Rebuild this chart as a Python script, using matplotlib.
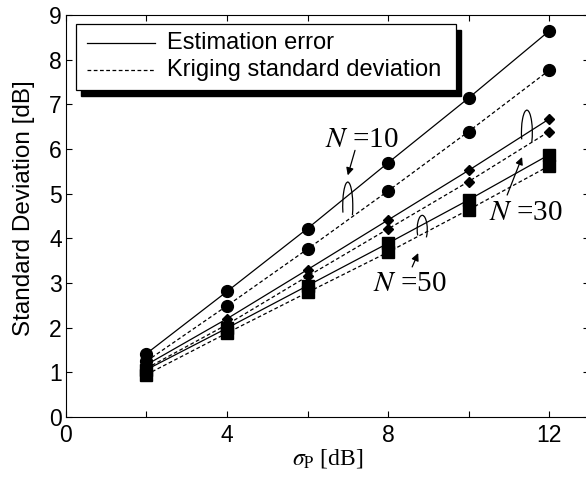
import matplotlib
matplotlib.use("Agg")
import matplotlib.pyplot as plt
from matplotlib.patches import Arc, Rectangle

plt.rcParams["mathtext.fontset"] = "stix"

# sigma_P values [dB]
sigma_p = [2, 4, 6, 8, 10, 12]

# N = 10 (circles)
est_n10 = [1.42, 2.81, 4.22, 5.69, 7.14, 8.64]
krig_n10 = [1.25, 2.49, 3.76, 5.06, 6.39, 7.76]
# N = 30 (diamonds)
est_n30 = [1.17, 2.20, 3.30, 4.41, 5.52, 6.67]
krig_n30 = [1.09, 2.07, 3.15, 4.21, 5.27, 6.39]
# N = 50 (squares)
est_n50 = [1.06, 1.99, 2.94, 3.89, 4.86, 5.87]
krig_n50 = [0.95, 1.88, 2.79, 3.69, 4.64, 5.62]

xtick_vals = [0, 2, 4, 6, 8, 10, 12]
xtick_labels = ["0", "", "4", "", "8", "", "12"]

fig = plt.figure(figsize=(5.86, 4.78), dpi=100)
ax = fig.add_axes([0.1126, 0.1276, 0.893, 0.841])

series = [
    (est_n10, "-", "o", 8.5),
    (krig_n10, "--", "o", 8.5),
    (est_n30, "-", "D", 5.5),
    (krig_n30, "--", "D", 5.5),
    (est_n50, "-", "s", 8),
    (krig_n50, "--", "s", 8),
]
for vals, ls, mk, ms in series:
    ax.plot(sigma_p, vals, ls=ls, color="black", lw=0.9, marker=mk,
            markersize=ms, markerfacecolor="black", markeredgecolor="black",
            dashes=(3, 2) if ls == "--" else (None, None))

ax.set_xlim(0, 13)
ax.set_ylim(0, 9)
ax.set_xticks(xtick_vals)
ax.set_xticklabels(xtick_labels)
ax.set_yticks(range(10))
ax.tick_params(direction="in", top=True, right=True, length=4,
               labelsize=16.5)
ax.tick_params(axis="x", pad=5)
ax.tick_params(axis="y", pad=3)
for lab in ax.get_xticklabels() + ax.get_yticklabels():
    lab.set_family("Liberation Sans")

ax.set_ylabel("Standard Deviation [dB]", family="Liberation Sans",
              fontsize=17.5)
ax.yaxis.set_label_coords(-0.06, 0.52)
ax.set_xlabel(r"$\sigma_{\mathrm{P}}$ [dB]", family="Liberation Serif",
              fontsize=17, labelpad=0)

# legend drawn by hand to get the heavy offset shadow
ax.add_patch(Rectangle((0.028, 0.798), 0.727, 0.165, transform=ax.transAxes,
                       facecolor="black", edgecolor="black", zorder=5))
ax.add_patch(Rectangle((0.019, 0.813), 0.727, 0.165, transform=ax.transAxes,
                       facecolor="white", edgecolor="black", lw=0.9, zorder=6))
ax.plot([0.04, 0.17], [0.93, 0.93], transform=ax.transAxes,
        color="black", lw=0.9, zorder=7)
ax.plot([0.04, 0.17], [0.863, 0.863], transform=ax.transAxes,
        color="black", lw=0.9, dashes=(3, 2), zorder=7)
ax.text(0.193, 0.93, "Estimation error", transform=ax.transAxes,
        family="Liberation Sans", fontsize=17, va="center", zorder=7)
ax.text(0.193, 0.863, "Kriging standard deviation", transform=ax.transAxes,
        family="Liberation Sans", fontsize=17, va="center", zorder=7)

# N labels, arrows and loops
labels = [
    ("$N$ =10", (7.35, 6.2), (7.18, 5.97), (7.0, 5.41), (7.0, 4.72), 0.25, 1.08),
    ("$N$ =30", (11.43, 4.56), (10.96, 4.97), (11.33, 5.82), (11.45, 6.37), 0.27, 1.0),
    ("$N$ =50", (8.55, 2.98), (8.6, 3.36), (8.75, 3.67), (8.85, 4.2), 0.25, 0.63),
]
for txt, tpos, a0, a1, cen, w, h in labels:
    ax.text(tpos[0], tpos[1], txt, fontsize=21, family="Liberation Serif",
            ha="center", va="center")
    ax.annotate("", xy=a1, xytext=a0,
                arrowprops=dict(arrowstyle="-|>", color="black", lw=0.9,
                                mutation_scale=11, shrinkA=0, shrinkB=0))
    ax.add_patch(Arc(cen, w, h, theta1=-60, theta2=230, color="black", lw=0.9))

fig.savefig("out.png", dpi=100)
